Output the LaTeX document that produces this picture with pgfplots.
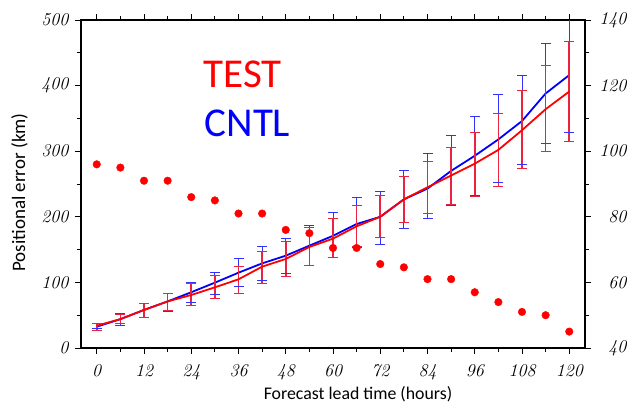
\documentclass[border=0pt]{standalone}
\usepackage{pgfplots}
\usepackage{pgfplotstable}
\pgfplotsset{compat=1.18}
\usepackage{fontspec}
\newfontfamily\calibri{Carlito}
\definecolor{ebred}{RGB}{235,35,65}
\definecolor{ebblue}{RGB}{50,50,255}
\pgfplotstableread{
t b r
0 32.5 34
6 44 44
12 58 58
18 71 71
24 85 80.8
30 99.6 92.5
36 114.8 104.7
42 129 124
48 140.7 135.7
54 156 154
60 171 166.7
66 189 185.5
72 200 200
78 226.6 226.6
84 243 245
90 270 263
96 293 281
102 318 302
108 346 332
114 388 364
120 416 391
}\linedata
\pgfplotstableread{
t v
0 96
6 95
12 91
18 91
24 86
30 85
36 81
42 81
48 76
54 75
60 70.5
66 70.5
72 65.6
78 64.6
84 61
90 61
96 57
102 54
108 51
114 50
120 45
}\dotdata
\begin{document}
\begin{tikzpicture}
\useasboundingbox (-81bp,-55bp) rectangle (548bp,348bp);
\pgfplotsset{
 common/.style={scale only axis, width=504bp, height=328bp, at={(0,0)}, anchor=south west,
  xmin=-4, xmax=124,
  axis line style={line width=1.4pt, black},
  tick style={line width=0.9pt, black},
  tick align=outside, major tick length=6bp, minor tick length=4bp,
  ticklabel style={font=\fontsize{18bp}{18bp}\selectfont\itshape},
  /pgf/number format/assume math mode=true},
 ebar/.style={line width=1pt, unbounded coords=jump, mark=-, mark size=5bp, mark options={solid, line width=1pt}},
}
\begin{axis}[common,
  ymin=0, ymax=500, ytick={0,100,...,500}, minor ytick={50,150,...,450},
  xtick={0,12,...,120}, minor xtick={6,18,...,114},
  xtick pos=both, xticklabel pos=left, ytick pos=left,
  xticklabel style={yshift=-7bp},
  yticklabel style={xshift=-3bp},
  xlabel={Forecast lead time (hours)},
  ylabel={Positional error (km)},
  xlabel style={font=\calibri\fontsize{17.8bp}{17.8bp}\selectfont, at={(axis description cs:0.5496,-0.1555)}, anchor=base},
  ylabel style={font=\calibri\fontsize{19bp}{19bp}\selectfont, at={(axis description cs:-0.111,0.474)}, anchor=base},
]
% CNTL error bars (bottom, top)
\addplot[ebblue, ebar] coordinates {
(0,30)(0,38)(0,nan) (6,34)(6,52.8)(6,nan) (12,46)(12,68)(12,nan) (18,56.4)(18,83)(18,nan)
(24,70)(24,99.6)(24,nan) (30,81.8)(30,115.4)(30,nan) (36,94.5)(36,135.7)(36,nan)
(42,103.6)(42,154.5)(42,nan) (48,113)(48,167)(48,nan) (54,125.5)(54,187)(54,nan)
(60,137.7)(60,207)(60,nan) (66,153)(66,228.7)(66,nan) (72,158.5)(72,239)(72,nan)
(78,182)(78,271)(78,nan) (84,197)(84,297)(84,nan) (90,217)(90,324)(90,nan)
(96,233)(96,353)(96,nan) (102,252)(102,387)(102,nan) (108,279)(108,415)(108,nan)
(114,312)(114,464)(114,nan) (120,328)(120,510)
};
\addplot[blue, line width=1.8pt] table[x=t, y=b] {\linedata};
% TEST error bars (bottom, top)
\addplot[ebred, ebar, line width=1.7pt] coordinates {
(0,27.4)(0,36.6)(0,nan) (6,37.6)(6,50.8)(6,nan) (12,46)(12,68)(12,nan) (18,57)(18,83)(18,nan)
(24,65.5)(24,97.6)(24,nan) (30,75.7)(30,109.8)(30,nan) (36,83.3)(36,125)(36,nan)
(42,98.6)(42,147)(42,nan) (48,109)(48,162)(48,nan) (54,126.5)(54,183)(54,nan)
(60,137.7)(60,197)(60,nan) (66,154)(66,217.5)(66,nan) (72,168)(72,233)(72,nan)
(78,191)(78,262)(78,nan) (84,205)(84,285)(84,nan) (90,219.5)(90,306)(90,nan)
(96,231)(96,329)(96,nan) (102,246)(102,357)(102,nan) (108,273)(108,393)(108,nan)
(114,300)(114,430)(114,nan) (120,315)(120,467)
};
\addplot[red, line width=1.8pt] table[x=t, y=r] {\linedata};
\node[anchor=base west, text=red, font=\calibri\fontsize{41bp}{41bp}\selectfont, inner sep=0pt] at (rel axis cs:0.243,0.795) {TEST};
\node[anchor=base west, text=blue, font=\calibri\fontsize{41bp}{41bp}\selectfont, inner sep=0pt] at (rel axis cs:0.245,0.644) {CNTL};
\end{axis}
\begin{axis}[common,
  ymin=40, ymax=140, ytick={40,60,...,140}, minor ytick={50,70,...,130},
  axis x line=none, axis y line*=right, ytick pos=right, yticklabel pos=right,
  yticklabel style={anchor=east, xshift=39bp},
]
\addplot[only marks, mark=*, red, mark size=3.8bp] table[x=t, y=v] {\dotdata};
\end{axis}
\end{tikzpicture}
\end{document}
